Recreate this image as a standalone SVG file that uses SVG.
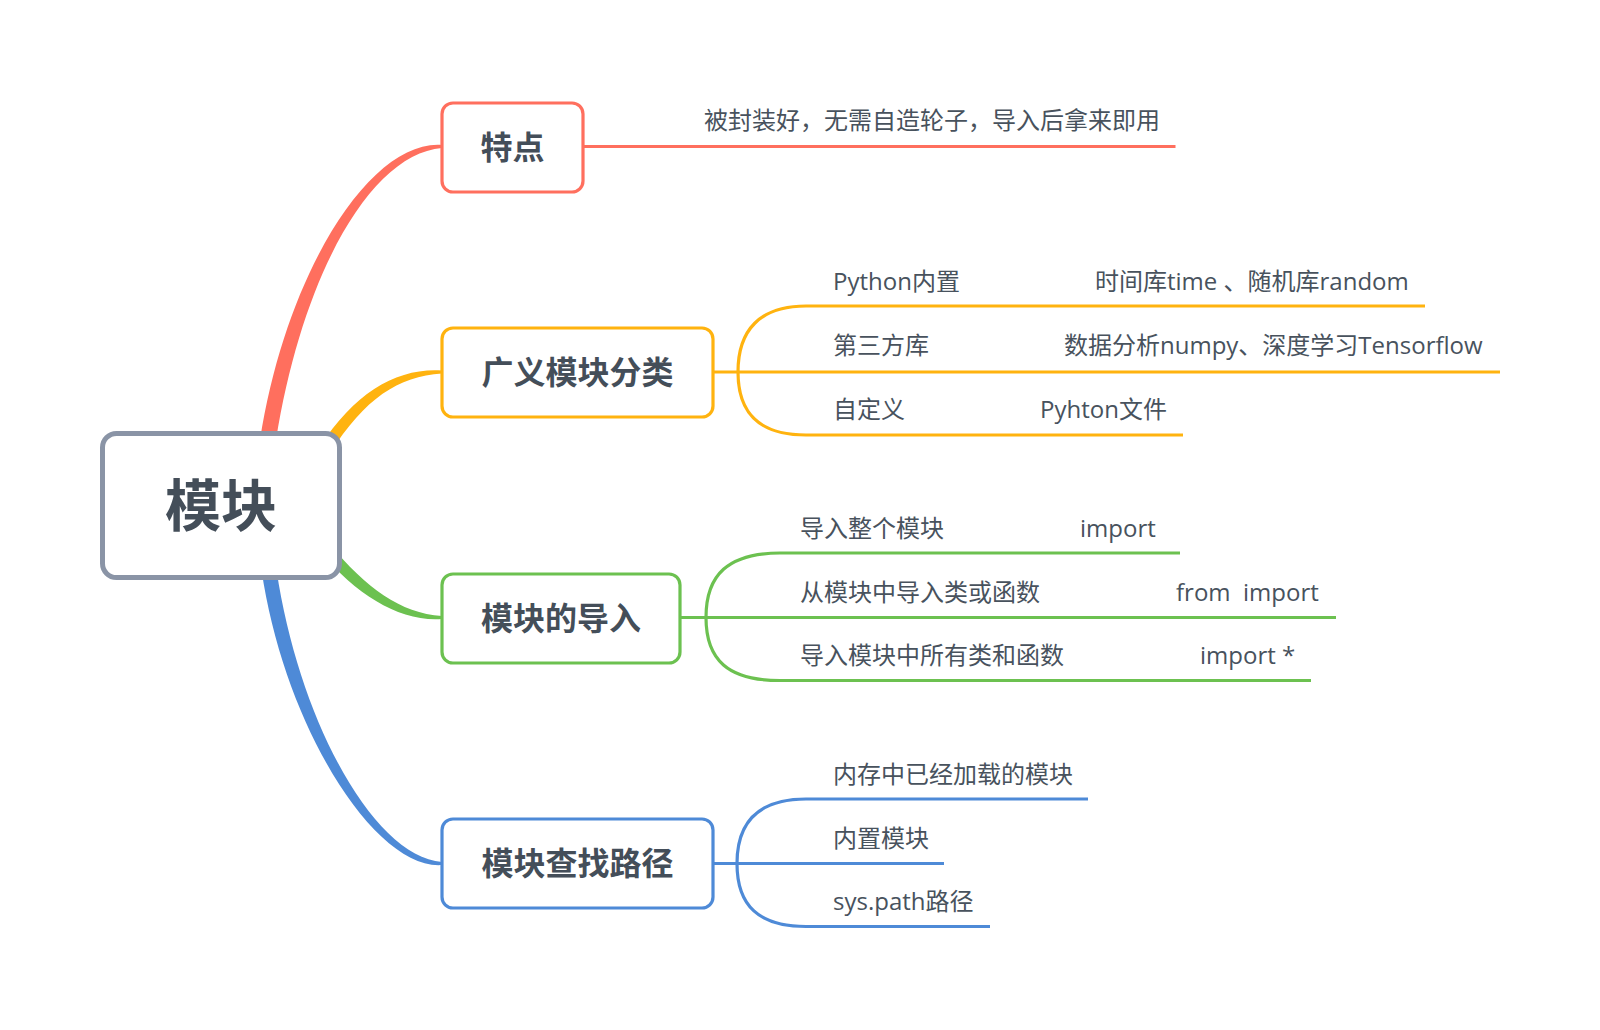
<svg xmlns="http://www.w3.org/2000/svg" width="1600" height="1030" viewBox="0 0 1600 1030">
<style>
.t{font-family:"Open Sans","Noto Sans CJK SC",sans-serif;font-size:24px;fill:#48525d}
.h{font-family:"Open Sans","Noto Sans CJK SC",sans-serif;font-weight:700;font-size:32px;fill:#444e59;text-anchor:middle}
.box{fill:#ffffff;stroke-width:3.2}
.br{fill:none;stroke-width:3.2}
.red{stroke:#ff6f5e}.org{stroke:#ffb30f}.grn{stroke:#6cc150}.blu{stroke:#4e8ad7}
</style>
<rect width="1600" height="1030" fill="#ffffff"/>
<g id="connectors">
<path d="M260,440 C287,268.5 372,139.5 442,145 L442,148 C372,153.5 303,271.5 276,440 Z" fill="#ff6f5e"/>
<path d="M320,446.8 C355,391.8 398,367.5 442,370.5 L442,373.5 C398,376.5 365,398.2 330,453.2 Z" fill="#ffb30f"/>
<path d="M329.6,544.2 C366.6,588.2 400,613 442,616 L442,619 C400,622 357.4,595.8 320.4,551.8 Z" fill="#6cc150"/>
<path d="M261.5,570 C284.5,726.5 375,870 442,865 L442,862 C375,857 299.5,723.5 276.5,570 Z" fill="#4e8ad7"/>
<path class="br red" d="M583,146.5 L1175.5,146.5"/>
<path class="br org" d="M713,372 L1500,372 M738,372 C738,330 760,306 806,306 L1425,306 M738,372 C738,414 760,435 806,435 L1183,435"/>
<path class="br grn" d="M680,617.5 L1336,617.5 M706,617.5 C706,575 728,553 780,553 L1180,553 M706,617.5 C706,660 728,680.5 780,680.5 L1311,680.5"/>
<path class="br blu" d="M713,863.5 L944,863.5 M737,863.5 C737,821 759,799 806,799 L1088,799 M737,863.5 C737,906 759,926.5 806,926.5 L990,926.5"/>
</g>
<g id="root">
<rect x="102.5" y="433.5" width="237" height="144" rx="14" fill="#ffffff" stroke="#8a94a6" stroke-width="5"/>
<text x="221" y="526" class="h" style="font-size:56px">模块</text>
</g>
<g id="node-tedian">
<rect class="box red" x="442" y="103" width="141" height="89" rx="11"/>
<text x="512.5" y="159" class="h">特点</text>
<text x="704" y="129" class="t">被封装好，无需自造轮子，导入后拿来即用</text>
</g>
<g id="node-fenlei">
<rect class="box org" x="442" y="328" width="271" height="89" rx="11"/>
<text x="577.5" y="384" class="h">广义模块分类</text>
<text x="833" y="290" class="t">Python内置</text>
<text x="1095" y="290" class="t">时间库time 、随机库random</text>
<text x="833" y="354" class="t">第三方库</text>
<text x="1064" y="354" class="t">数据分析numpy、深度学习Tensorflow</text>
<text x="833" y="418" class="t">自定义</text>
<text x="1040" y="418" class="t">Pyhton文件</text>
</g>
<g id="node-daoru">
<rect class="box grn" x="442" y="574" width="238" height="89" rx="11"/>
<text x="561" y="630" class="h">模块的导入</text>
<text x="800" y="537" class="t">导入整个模块</text>
<text x="1080" y="537" class="t">import</text>
<text x="800" y="601" class="t">从模块中导入类或函数</text>
<text x="1176" y="601" class="t" xml:space="preserve">from  import</text>
<text x="800" y="664" class="t">导入模块中所有类和函数</text>
<text x="1200" y="664" class="t">import *</text>
</g>
<g id="node-lujing">
<rect class="box blu" x="442" y="819" width="271" height="89" rx="11"/>
<text x="577.5" y="875" class="h">模块查找路径</text>
<text x="833" y="783" class="t">内存中已经加载的模块</text>
<text x="833" y="847" class="t">内置模块</text>
<text x="833" y="910" class="t">sys.path路径</text>
</g>
</svg>
